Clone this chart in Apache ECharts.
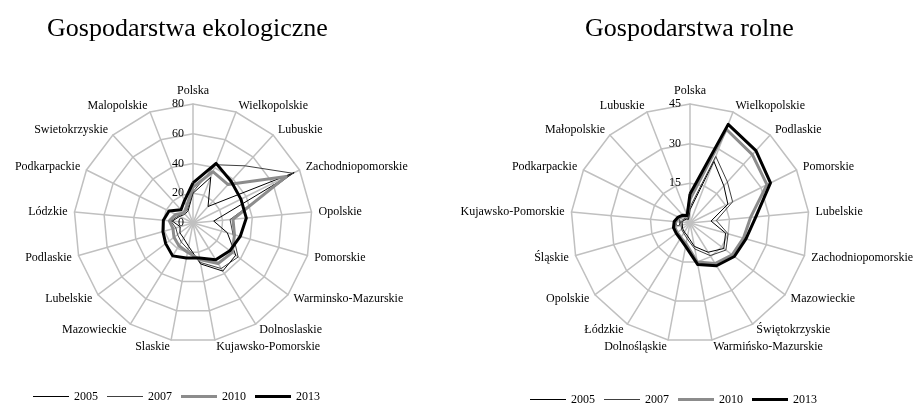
<!DOCTYPE html>
<html>
<head>
<meta charset="utf-8">
<script src="https://cdn.jsdelivr.net/npm/echarts@6/dist/echarts.min.js"></script>
<style>
  html, body { margin: 0; padding: 0; background: #fff; }
  #chart { width: 916px; height: 403px; }
</style>
</head>
<body>
<div id="chart"></div>
<script>
// lata (serie)
var years = ['2005', '2007', '2010', '2013'];

// Gospodarstwa ekologiczne - regiony w kolejnosci zgodnej z ruchem wskazowek zegara
var ekoCats = ['Polska', 'Wielkopolskie', 'Lubuskie', 'Zachodniopomorskie', 'Opolskie', 'Pomorskie',
  'Warminsko-Mazurskie', 'Dolnoslaskie', 'Kujawsko-Pomorskie', 'Slaskie', 'Mazowieckie', 'Lubelskie',
  'Podlaskie', 'Lódzkie', 'Podkarpackie', 'Swietokrzyskie', 'Malopolskie'];
var eko2005 = [20, 33, 15, 76, 14, 24, 36, 38, 28, 16, 12, 11, 9, 14, 10, 8, 9];
var eko2007 = [21, 42, 52, 75, 25, 28, 38, 36, 27, 18, 15, 13, 12, 15, 11, 9, 10];
var eko2010 = [24, 37, 35, 70, 27, 29, 33, 32, 25, 20, 18, 16, 14, 16, 13, 9, 12];
var eko2013 = [27, 43, 38, 36, 36, 33, 31, 29, 24, 24, 26, 23, 21, 20, 18, 12, 16];
var ekoMax = 80;

// Gospodarstwa rolne
var rolCats = ['Polska', 'Wielkopolskie', 'Podlaskie', 'Pomorskie', 'Lubelskie', 'Zachodniopomorskie',
  'Mazowieckie', 'Świętokrzyskie', 'Warmińsko-Mazurskie', 'Dolnośląskie', 'Łódzkie', 'Opolskie',
  'Śląskie', 'Kujawsko-Pomorskie', 'Podkarpackie', 'Małopolskie', 'Lubuskie'];
var rol2005 = [5, 25, 19, 16, 8, 14, 16, 13, 9, 5, 4, 3.5, 3, 3, 2.5, 2, 1.5];
var rol2007 = [6, 27, 21, 18, 10, 15, 17, 14.5, 10, 6, 4.5, 4, 3.5, 3.5, 3, 2.5, 2];
var rol2010 = [9, 38, 35, 32.5, 23, 21, 20, 18, 15, 8, 6.5, 6, 6, 5.5, 4.5, 3.5, 3];
var rol2013 = [11, 40, 37, 34, 25, 22, 21, 19, 16, 9, 7, 6.5, 6.5, 6, 5, 4, 3];
var rolMax = 45;

var font = 'Liberation Serif';
// styl linii dla kolejnych lat
var lineColors = ['#000000', '#404040', '#8c8c8c', '#000000'];
var lineWidths = [1, 1, 3, 3];

// radar w echarts idzie przeciwnie do zegara - odwracamy kolejnosc (Polska zostaje na gorze)
function clockwise(arr) {
  return [arr[0]].concat(arr.slice(1).reverse());
}

function indicators(cats, max) {
  return clockwise(cats).map(function (c, i) {
    return { name: c, min: 0, max: max, axisLabel: { show: i === 0 } };
  });
}

function radarCfg(cx, cats, max, split) {
  return {
    center: [cx, 223],
    radius: 119,
    shape: 'polygon',
    splitNumber: split,
    indicator: indicators(cats, max),
    nameGap: 7,
    axisName: { color: '#000', fontFamily: font, fontSize: 12 },
    axisLine: { lineStyle: { color: '#c0c0c0', width: 1.5 } },
    splitLine: { lineStyle: { color: '#c0c0c0', width: 1.5 } },
    splitArea: { show: false },
    axisTick: { show: false },
    axisLabel: { show: true, color: '#000', fontFamily: font, fontSize: 12, margin: 9, showMinLabel: true }
  };
}

function seriesData(sets) {
  return sets.map(function (vals, i) {
    return {
      name: years[i],
      value: clockwise(vals),
      symbol: 'none',
      lineStyle: { color: lineColors[i], width: lineWidths[i] },
      itemStyle: { color: lineColors[i] }
    };
  });
}

var legendData = years.map(function (y, i) {
  return {
    name: y,
    icon: lineWidths[i] > 1 ? 'path://M0,0H36V3H0Z' : 'path://M0,0H36V1.2H0Z',
    itemStyle: { color: lineColors[i] }
  };
});

function legendCfg(left, top) {
  return {
    left: left,
    top: top,
    padding: 0,
    data: legendData,
    itemWidth: 36,
    itemHeight: 13,
    itemGap: 9,
    textStyle: { color: '#000', fontFamily: font, fontSize: 12 },
    selectedMode: false
  };
}

var chart = echarts.init(document.getElementById('chart'));
chart.setOption({
  backgroundColor: '#fff',
  animation: false,
  title: [
    { text: 'Gospodarstwa ekologiczne', left: 42, top: 11,
      textStyle: { color: '#000', fontFamily: font, fontSize: 26, fontWeight: 'normal' } },
    { text: 'Gospodarstwa rolne', left: 580, top: 11,
      textStyle: { color: '#000', fontFamily: font, fontSize: 26, fontWeight: 'normal' } }
  ],
  legend: [legendCfg(33, 390.5), legendCfg(530, 393.5)],
  radar: [
    radarCfg(193, ekoCats, ekoMax, 4),
    radarCfg(690, rolCats, rolMax, 3)
  ],
  series: [
    { type: 'radar', radarIndex: 0, data: seriesData([eko2005, eko2007, eko2010, eko2013]) },
    { type: 'radar', radarIndex: 1, data: seriesData([rol2005, rol2007, rol2010, rol2013]) }
  ]
});
</script>
</body>
</html>
